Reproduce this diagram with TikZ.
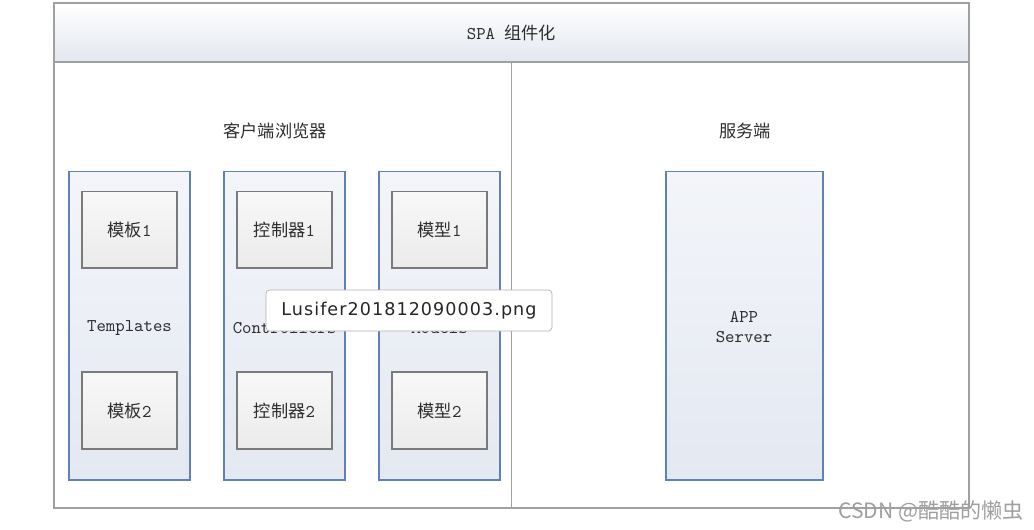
\documentclass[tikz,border=0pt]{standalone}
\usepackage{fontspec}
\newfontfamily\cjk{Noto Sans CJK SC}
\newfontfamily\tipfont[LetterSpace=6]{DejaVu Sans}
\usetikzlibrary{positioning}
\usepackage{xcolor}
\definecolor{framegray}{HTML}{A0A0A0}
\definecolor{headblue}{HTML}{E3E7EF}
\definecolor{colblue}{HTML}{5F82B3}
\definecolor{coltop}{HTML}{F3F5FA}
\definecolor{colbot}{HTML}{E4E8F1}
\definecolor{partgray}{HTML}{7A7A7A}
\definecolor{parttop}{HTML}{F8F8F8}
\definecolor{partbot}{HTML}{EBEBEB}
\definecolor{inkgray}{HTML}{2E2E2E}
\newcommand\zh[1]{{\cjk\fontsize{9.8}{12}\selectfont #1}}

\begin{document}
\begin{tikzpicture}[
  x=0.02cm, y=-0.02cm,
  frame/.style={draw=framegray, line width=0.8pt, fill=white, minimum width=18.3cm, minimum height=10.1cm, inner sep=0pt},
  header/.style={draw=framegray, line width=0.8pt, top color=white, bottom color=headblue, minimum width=18.3cm, minimum height=1.18cm, inner sep=0pt, text=inkgray, font=\ttfamily\fontsize{10.2}{12}\selectfont},
  column/.style={draw=colblue, line width=0.6pt, top color=coltop, bottom color=colbot, minimum width=2.42cm, minimum height=6.18cm, inner sep=0pt},
  part/.style={draw=partgray, line width=0.6pt, top color=parttop, bottom color=partbot, minimum width=1.9cm, minimum height=1.54cm, inner sep=0pt, text=inkgray, font=\ttfamily\fontsize{10.2}{12}\selectfont},
  mono/.style={text=inkgray, align=center, font=\ttfamily\fontsize{10.2}{11.9}\selectfont},
  title/.style={text=inkgray, font=\cjk\fontsize{9.8}{12}\selectfont},
  tip/.style={draw=gray!60, rounded corners=2pt, fill=white, minimum width=5.72cm, minimum height=0.82cm, text=black!85, font=\tipfont\fontsize{10}{12}\selectfont},
  watermark/.style={text=gray!75, font=\cjk\fontsize{12}{14}\selectfont},
  line/.style={draw=framegray, line width=0.8pt}
]
\useasboundingbox (0,0) rectangle (1034,529);

% Outer frame and header
\node[frame] (spa) at (511.5,255.5) {};
\node[header] (head) at (511.5,32.5) {SPA \zh{组件化}};
\draw[line] (head.south) -- (head.south |- spa.south);

% Section titles
\node[title] (client) at (275,131) {客户端浏览器};
\node[title] (server) at (745,131) {服务端};

% Client columns
\node[column] (tpl) at (129.5,325.5) {};
\node[column] (ctl) at (284.5,325.5) {};
\node[column] (mdl) at (439.5,325.5) {};

\node[part, below=0.4cm of tpl.north] (tpl1) {\zh{模板}1};
\node[part, above=0.62cm of tpl.south] (tpl2) {\zh{模板}2};
\node[part, below=0.4cm of ctl.north] (ctl1) {\zh{控制器}1};
\node[part, above=0.62cm of ctl.south] (ctl2) {\zh{控制器}2};
\node[part, below=0.4cm of mdl.north] (mdl1) {\zh{模型}1};
\node[part, above=0.62cm of mdl.south] (mdl2) {\zh{模型}2};

\node[mono, yshift=-0.06cm] (tpllbl) at (tpl) {Templates};
\node[mono, yshift=-0.06cm] (ctllbl) at (ctl) {Controllers};
\node[mono, yshift=-0.06cm] (mdllbl) at (mdl) {Models};

% Server
\node[column, minimum width=3.14cm] (app) at (744.5,325.5) {};
\node[mono] (applbl) at (744,327) {APP\\Server};

% Overlays
\node[tip] (tooltip) at (409,310.5) {Lusifer201812090003.png};
\node[watermark] (csdn) at (931,511) {CSDN @酷酷的懒虫};
\end{tikzpicture}
\end{document}
